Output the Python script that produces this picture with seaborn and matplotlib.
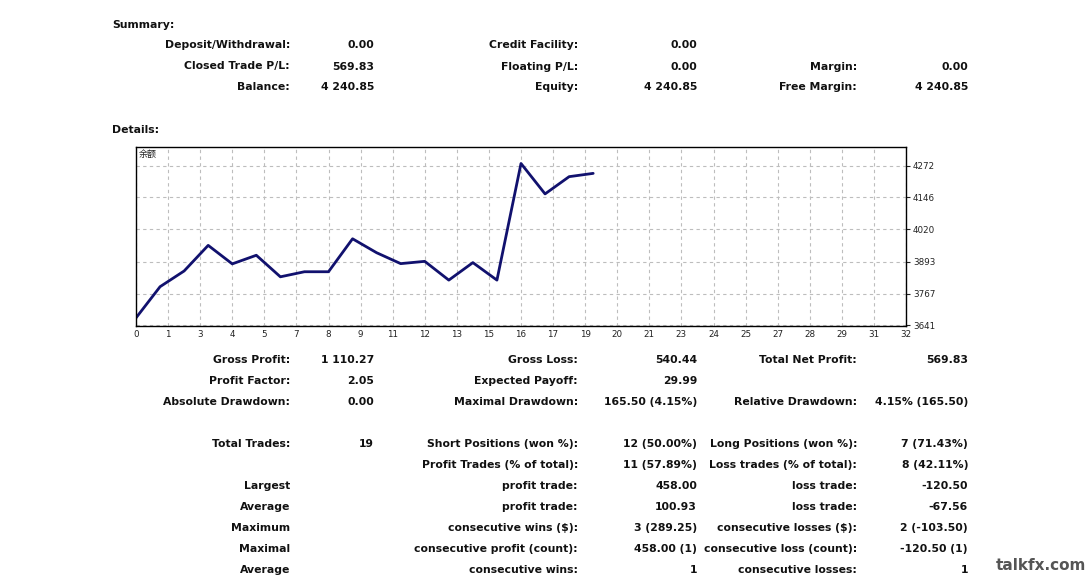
import numpy as np
import pandas as pd
import matplotlib
matplotlib.use("Agg")
import matplotlib.pyplot as plt
import seaborn as sns

# ---------------- data ----------------
trade_no = list(range(20))
balance = [3671, 3794, 3856, 3957, 3884, 3918, 3833, 3853, 3853, 3983,
           3928, 3885, 3894, 3820, 3889, 3820, 4280, 4160, 4228, 4241]
y_ticks = [3641, 3767, 3893, 4020, 4146, 4272]
x_tick_labels = ["0", "1", "3", "4", "5", "7", "8", "9", "11", "12", "13", "15", "16",
                 "17", "19", "20", "21", "23", "24", "25", "27", "28", "29", "31", "32"]
chart_label = "余额"

summary_col1 = [("Deposit/Withdrawal:", "0.00"), ("Closed Trade P/L:", "569.83"), ("Balance:", "4 240.85")]
summary_col2 = [("Credit Facility:", "0.00"), ("Floating P/L:", "0.00"), ("Equity:", "4 240.85")]
summary_col3 = [("", ""), ("Margin:", "0.00"), ("Free Margin:", "4 240.85")]

details_col1 = [("Gross Profit:", "1 110.27"), ("Profit Factor:", "2.05"), ("Absolute Drawdown:", "0.00")]
details_col2 = [("Gross Loss:", "540.44"), ("Expected Payoff:", "29.99"), ("Maximal Drawdown:", "165.50 (4.15%)")]
details_col3 = [("Total Net Profit:", "569.83"), ("", ""), ("Relative Drawdown:", "4.15% (165.50)")]

trades_col1 = [("Total Trades:", "19"), ("", ""), ("Largest", ""), ("Average", ""),
               ("Maximum", ""), ("Maximal", ""), ("Average", "")]
trades_col2 = [("Short Positions (won %):", "12 (50.00%)"), ("Profit Trades (% of total):", "11 (57.89%)"),
               ("profit trade:", "458.00"), ("profit trade:", "100.93"),
               ("consecutive wins ($):", "3 (289.25)"), ("consecutive profit (count):", "458.00 (1)"),
               ("consecutive wins:", "1")]
trades_col3 = [("Long Positions (won %):", "7 (71.43%)"), ("Loss trades (% of total):", "8 (42.11%)"),
               ("loss trade:", "-120.50"), ("loss trade:", "-67.56"),
               ("consecutive losses ($):", "2 (-103.50)"), ("consecutive loss (count):", "-120.50 (1)"),
               ("consecutive losses:", "1")]
watermark = "talkfx.com"

# ---------------- figure ----------------
sns.set_style("white")
plt.rcParams["font.family"] = ["DejaVu Sans", "Noto Sans CJK SC"]

W, H = 1091, 578
fig = plt.figure(figsize=(W / 100, H / 100), dpi=100)
fig.patch.set_facecolor("white")

TXT = "#111111"
FS = 7.85

def px(x, y):
    return x / W, 1 - y / H

def put(x, y, s, ha="right", **kw):
    if not s:
        return
    fx, fy = px(x, y)
    fig.text(fx, fy, s, ha=ha, va="center", fontsize=FS, fontweight="bold", color=TXT, **kw)

# headings
put(112, 25, "Summary:", ha="left")
put(112, 130, "Details:", ha="left")

col_x = [(290, 374), (578, 697), (857, 968)]

def block(cols, ys):
    for (lx, vx), col in zip(col_x, cols):
        for (lab, val), y in zip(col, ys):
            put(lx, y, lab)
            put(vx, y, val)

block([summary_col1, summary_col2, summary_col3], [45.5, 66.5, 87.5])
block([details_col1, details_col2, details_col3], [360, 381, 402])
block([trades_col1, trades_col2, trades_col3], [444, 465, 486, 507, 528, 549, 570])

fx, fy = px(1086, 566)
fig.text(fx, fy, watermark, ha="right", va="center", fontsize=11, fontweight="heavy", color="#555555")

# ---------------- chart ----------------
left, top, right, bottom = 136, 147, 906, 326
ax = fig.add_axes([left / W, 1 - bottom / H, (right - left) / W, (bottom - top) / H])
df = pd.DataFrame({"trade": trade_no, "balance": balance})
sns.lineplot(data=df, x="trade", y="balance", ax=ax, color="#11116e", linewidth=2.0)

ax.set_xlim(0, 32)
ax.set_ylim(3639, 4345)
xt = np.linspace(0, 32, len(x_tick_labels))
ax.set_xticks(xt)
ax.set_xticklabels(x_tick_labels)
ax.set_yticks(y_ticks)
ax.set_yticklabels([str(v) for v in y_ticks])
ax.yaxis.tick_right()
ax.tick_params(axis="y", which="both", right=True, length=3, width=0.8, pad=2,
               labelsize=6.3, colors="#222222")
ax.tick_params(axis="x", which="both", bottom=True, length=0, pad=3,
               labelsize=6.3, colors="#222222")
ax.set_xlabel("")
ax.set_ylabel("")
ax.grid(True, color="#bdbdbd", linestyle=(0, (3, 3)), linewidth=0.8)
for s in ax.spines.values():
    s.set_visible(True)
    s.set_color("#000000")
    s.set_linewidth(1.0)
ax.text(0.004, 0.985, chart_label, transform=ax.transAxes, ha="left", va="top",
        fontsize=6.5, family=["Noto Sans CJK SC", "DejaVu Sans"], color="#222222")

fig.savefig("out.png", dpi=100, facecolor="white")
